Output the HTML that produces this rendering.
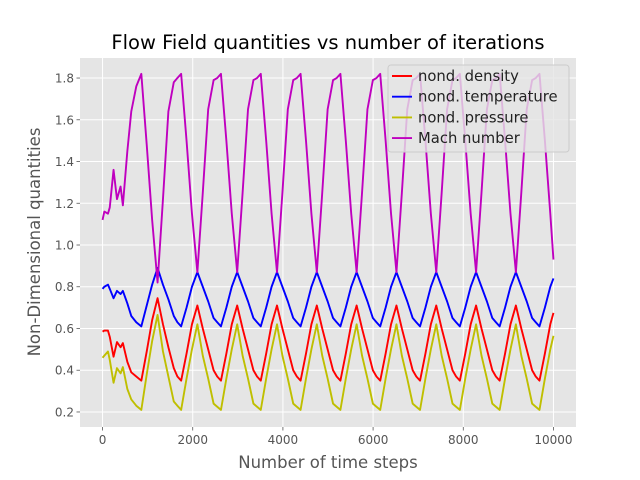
<!DOCTYPE html>
<html><head><meta charset="utf-8">
<style>
body{margin:0;background:#fff;}
svg{display:block;font-family:"DejaVu Sans","Liberation Sans",sans-serif;}
</style></head>
<body>
<svg id="chart" width="640" height="480" viewBox="0 0 640 480">
<rect x="0" y="0" width="640" height="480" fill="#fff"/>
<rect x="80" y="58" width="496" height="369" fill="#e5e5e5"/>
<g id="grid"></g>
<g id="series"></g>
<g id="axes"></g>
<text x="328" y="49" text-anchor="middle" font-size="19.5" fill="#000">Flow Field quantities vs number of iterations</text>
<text x="328" y="468" text-anchor="middle" font-size="16.5" fill="#555">Number of time steps</text>
<text x="40" y="242" text-anchor="middle" font-size="16.5" fill="#555" transform="rotate(-90 40 242)">Non-Dimensional quantities</text>
<g id="legend">
<rect x="388" y="65" width="181" height="87" rx="3" fill="#e5e5e5" fill-opacity="0.8" stroke="#cccccc"/>
</g>
</svg>
<script>
const steps=[0,40,120,160,244,320,400,451,550,637,748,
860,980,1100,1220,1340,1460,1580,1660,
1743,1863,1983,2103,2223,2343,2463,2543,
2626,2746,2866,2986,3106,3226,3346,3426,
3509,3629,3749,3869,3989,4109,4229,4309,
4392,4512,4632,4752,4872,4992,5112,5192,
5275,5395,5515,5635,5755,5875,5995,6075,
6158,6278,6398,6518,6638,6758,6878,6958,
7041,7161,7281,7401,7521,7641,7761,7841,
7924,8044,8164,8284,8404,8524,8644,8724,
8807,8927,9047,9167,9287,9407,9527,9607,
9690,9810,9930,10000];
const mach=[1.12,1.16,1.15,1.18,1.36,1.22,1.28,1.19,1.45,1.64,1.76,
1.82,1.48,1.12,0.82,1.22,1.64,1.78,1.80,
1.82,1.50,1.15,0.87,1.25,1.65,1.79,1.80,
1.82,1.50,1.15,0.87,1.25,1.65,1.79,1.80,
1.82,1.50,1.15,0.87,1.25,1.65,1.79,1.80,
1.82,1.50,1.15,0.87,1.25,1.65,1.79,1.80,
1.82,1.50,1.15,0.87,1.25,1.65,1.79,1.80,
1.82,1.50,1.15,0.87,1.25,1.65,1.79,1.80,
1.82,1.50,1.15,0.87,1.25,1.65,1.79,1.80,
1.82,1.50,1.15,0.87,1.25,1.65,1.79,1.80,
1.82,1.50,1.15,0.87,1.25,1.65,1.79,1.80,
1.82,1.50,1.15,0.93];
const temperature=[0.79,0.80,0.81,0.79,0.745,0.78,0.765,0.78,0.72,0.66,0.63,
0.61,0.71,0.81,0.89,0.81,0.74,0.66,0.63,
0.61,0.70,0.80,0.87,0.80,0.73,0.65,0.63,
0.61,0.70,0.80,0.87,0.80,0.73,0.65,0.63,
0.61,0.70,0.80,0.87,0.80,0.73,0.65,0.63,
0.61,0.70,0.80,0.87,0.80,0.73,0.65,0.63,
0.61,0.70,0.80,0.87,0.80,0.73,0.65,0.63,
0.61,0.70,0.80,0.87,0.80,0.73,0.65,0.63,
0.61,0.70,0.80,0.87,0.80,0.73,0.65,0.63,
0.61,0.70,0.80,0.87,0.80,0.73,0.65,0.63,
0.61,0.70,0.80,0.87,0.80,0.73,0.65,0.63,
0.61,0.70,0.80,0.84];
const density=[0.585,0.59,0.59,0.56,0.465,0.535,0.51,0.53,0.44,0.39,0.37,
0.35,0.49,0.64,0.745,0.62,0.51,0.41,0.37,
0.35,0.48,0.62,0.71,0.60,0.50,0.40,0.37,
0.35,0.48,0.62,0.71,0.60,0.50,0.40,0.37,
0.35,0.48,0.62,0.71,0.60,0.50,0.40,0.37,
0.35,0.48,0.62,0.71,0.60,0.50,0.40,0.37,
0.35,0.48,0.62,0.71,0.60,0.50,0.40,0.37,
0.35,0.48,0.62,0.71,0.60,0.50,0.40,0.37,
0.35,0.48,0.62,0.71,0.60,0.50,0.40,0.37,
0.35,0.48,0.62,0.71,0.60,0.50,0.40,0.37,
0.35,0.48,0.62,0.71,0.60,0.50,0.40,0.37,
0.35,0.48,0.62,0.675];
const pressure=[0.46,0.47,0.49,0.45,0.34,0.41,0.385,0.415,0.31,0.26,0.23,
0.21,0.38,0.54,0.665,0.49,0.37,0.25,0.23,
0.21,0.36,0.50,0.62,0.47,0.36,0.24,0.225,
0.21,0.36,0.50,0.62,0.47,0.36,0.24,0.225,
0.21,0.36,0.50,0.62,0.47,0.36,0.24,0.225,
0.21,0.36,0.50,0.62,0.47,0.36,0.24,0.225,
0.21,0.36,0.50,0.62,0.47,0.36,0.24,0.225,
0.21,0.36,0.50,0.62,0.47,0.36,0.24,0.225,
0.21,0.36,0.50,0.62,0.47,0.36,0.24,0.225,
0.21,0.36,0.50,0.62,0.47,0.36,0.24,0.225,
0.21,0.36,0.50,0.62,0.47,0.36,0.24,0.225,
0.21,0.36,0.50,0.565];
const xTicks=[0,2000,4000,6000,8000,10000];
const yTicks=[0.2,0.4,0.6,0.8,1.0,1.2,1.4,1.6,1.8];
const yTickLabels=["0.2","0.4","0.6","0.8","1.0","1.2","1.4","1.6","1.8"];
const seriesNames=["nond. density","nond. temperature","nond. pressure","Mach number"];
const seriesColors=["#ff0000","#0000ff","#bfbf00","#bf00bf"];

const NS="http://www.w3.org/2000/svg";
const L=80,R=576,T=58,B=427;
const xMin=-500,xMax=10500,yMin=0.128,yMax=1.896;
function xs(v){return L+(v-xMin)/(xMax-xMin)*(R-L);}
function ys(v){return B-(v-yMin)/(yMax-yMin)*(B-T);}
function mk(tag,attrs,parent){const e=document.createElementNS(NS,tag);for(const k in attrs)e.setAttribute(k,attrs[k]);parent.appendChild(e);return e;}

const grid=document.getElementById('grid'),axes=document.getElementById('axes');
xTicks.forEach(t=>{
  const g=mk('line',{x1:xs(t),x2:xs(t),y1:T,y2:B,stroke:'#fff','stroke-width':1},grid);
  
  
  const tk=mk('line',{x1:xs(t),x2:xs(t),y1:B,y2:B+3.5,stroke:'#555','stroke-width':0.8},axes);
  
  
  const lb=mk('text',{x:xs(t),y:B+17,'text-anchor':'middle','font-size':12,fill:'#555'},axes);
  lb.textContent=String(t);
  
  
});
yTicks.forEach((t,i)=>{
  const g=mk('line',{x1:L,x2:R,y1:ys(t),y2:ys(t),stroke:'#fff','stroke-width':1},grid);
  
  
  const tk=mk('line',{x1:L-3.5,x2:L,y1:ys(t),y2:ys(t),stroke:'#555','stroke-width':0.8},axes);
  
  
  const lb=mk('text',{x:L-6,y:ys(t)+4.5,'text-anchor':'end','font-size':12,fill:'#555'},axes);
  lb.textContent=yTickLabels[i];
  
  
});

const sg=document.getElementById('series');
const allSeries=[density,temperature,pressure,mach];
const seriesKeys=['density-line','temperature-line','pressure-line','mach-line'];
allSeries.forEach((vals,si)=>{
  const pts=steps.map((s,i)=>xs(s).toFixed(2)+','+ys(vals[i]).toFixed(2)).join(' ');
  const pl=mk('polyline',{points:pts,fill:'none',stroke:seriesColors[si],'stroke-width':1.9,'stroke-linejoin':'round'},sg);
  
  
});

const lg=document.getElementById('legend');
seriesNames.forEach((n,i)=>{
  const y=76+i*20.7;
  const ln=mk('line',{x1:392,x2:412,y1:y,y2:y,stroke:seriesColors[i],'stroke-width':1.9},lg);
  
  
  const tx=mk('text',{x:418,y:y+5,'font-size':14.8,fill:'#222'},lg);
  tx.textContent=n;
  
  
});
</script>
</body></html>
